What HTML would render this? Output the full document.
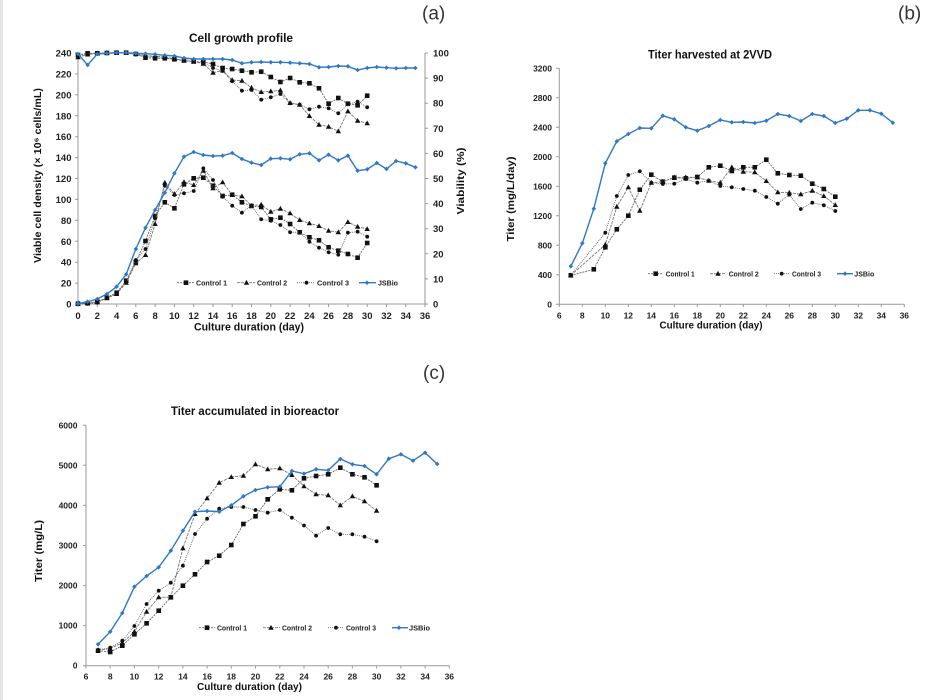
<!DOCTYPE html>
<html><head><meta charset="utf-8"><style>
html,body{margin:0;padding:0;background:#fff;}
svg{display:block;font-family:"Liberation Sans",Arial,sans-serif;}
.tk{font-weight:bold;font-size:9.5px;fill:#222;}
.tk2{font-weight:bold;font-size:8.5px;fill:#222;}
.ttl{font-weight:bold;fill:#111;}
.lg{font-weight:bold;font-size:7.5px;fill:#222;}
.ax{stroke:#9a9a9a;stroke-width:1;fill:none;}
.c1{fill:none;stroke:#666;stroke-width:0.9;stroke-dasharray:2,1;marker-start:url(#ms);marker-mid:url(#ms);marker-end:url(#ms);}
.c2{fill:none;stroke:#777;stroke-width:0.9;stroke-dasharray:3,1;marker-start:url(#mt);marker-mid:url(#mt);marker-end:url(#mt);}
.c3{fill:none;stroke:#666;stroke-width:0.9;stroke-dasharray:1,1;marker-start:url(#mc);marker-mid:url(#mc);marker-end:url(#mc);}
.bl{fill:none;stroke:#2f78c4;stroke-width:1.4;marker-start:url(#md);marker-mid:url(#md);marker-end:url(#md);}
.l1{fill:none;stroke:#666;stroke-width:0.9;stroke-dasharray:2,1;marker-mid:url(#ms);}
.l2{fill:none;stroke:#777;stroke-width:0.9;stroke-dasharray:3,1;marker-mid:url(#mt);}
.l3{fill:none;stroke:#666;stroke-width:0.9;stroke-dasharray:1,1;marker-mid:url(#mc);}
.lb{fill:none;stroke:#2f78c4;stroke-width:1.4;marker-mid:url(#md);}
</style></head><body>
<svg width="933" height="700" viewBox="0 0 933 700" xmlns="http://www.w3.org/2000/svg">
<defs>
<marker id="ms" viewBox="-3 -3 6 6" markerWidth="6" markerHeight="6" refX="0" refY="0" markerUnits="userSpaceOnUse" orient="0"><rect x="-2.3" y="-2.3" width="4.6" height="4.6" fill="#111"/></marker>
<marker id="mt" viewBox="-3 -3 6 6" markerWidth="6" markerHeight="6" refX="0" refY="0" markerUnits="userSpaceOnUse" orient="0"><polygon points="0,-2.8 2.7,2 -2.7,2" fill="#111"/></marker>
<marker id="mc" viewBox="-3 -3 6 6" markerWidth="6" markerHeight="6" refX="0" refY="0" markerUnits="userSpaceOnUse" orient="0"><circle r="1.9" fill="#111"/></marker>
<marker id="md" viewBox="-3 -3 6 6" markerWidth="6" markerHeight="6" refX="0" refY="0" markerUnits="userSpaceOnUse" orient="0"><polygon points="0,-2.3 2.3,0 0,2.3 -2.3,0" fill="#2f78c4"/></marker>
</defs>
<rect x="0" y="0" width="933" height="700" fill="#fff"/>
<rect x="0" y="0" width="3" height="700" fill="#e6e6e6"/>

<!-- ================= PANEL (a) ================= -->
<text x="422" y="19.5" font-size="19" fill="#333">(a)</text>
<text class="ttl" x="241" y="42" font-size="12" text-anchor="middle" textLength="104" lengthAdjust="spacingAndGlyphs">Cell growth profile</text>
<!-- axes -->
<path class="ax" d="M78,53 V304 H425 V53"/>
<path class="ax" d="M75,304H78M75,283.1H78M75,262.2H78M75,241.3H78M75,220.3H78M75,199.4H78M75,178.5H78M75,157.6H78M75,136.7H78M75,115.8H78M75,94.8H78M75,73.9H78M75,53H78"/>
<path class="ax" d="M425,304H428M425,278.9H428M425,253.8H428M425,228.7H428M425,203.6H428M425,178.5H428M425,153.4H428M425,128.3H428M425,103.2H428M425,78.1H428M425,53H428"/>
<path class="ax" d="M78,304V307M97.3,304V307M116.6,304V307M135.8,304V307M155.1,304V307M174.4,304V307M193.7,304V307M213,304V307M232.2,304V307M251.5,304V307M270.8,304V307M290.1,304V307M309.4,304V307M328.6,304V307M347.9,304V307M367.2,304V307M386.5,304V307M405.8,304V307M425,304V307"/>
<g class="tk" text-anchor="end">
<text x="71.5" y="307.5">0</text><text x="71.5" y="286.6">20</text><text x="71.5" y="265.7">40</text><text x="71.5" y="244.8">60</text><text x="71.5" y="223.8">80</text><text x="71.5" y="202.9">100</text><text x="71.5" y="182">120</text><text x="71.5" y="161.1">140</text><text x="71.5" y="140.2">160</text><text x="71.5" y="119.3">180</text><text x="71.5" y="98.3">200</text><text x="71.5" y="77.4">220</text><text x="71.5" y="56.5">240</text>
</g>
<g class="tk" text-anchor="start">
<text x="433" y="307.5">0</text><text x="433" y="282.4">10</text><text x="433" y="257.3">20</text><text x="433" y="232.2">30</text><text x="433" y="207.1">40</text><text x="433" y="182">50</text><text x="433" y="156.9">60</text><text x="433" y="131.8">70</text><text x="433" y="106.7">80</text><text x="433" y="81.6">90</text><text x="433" y="56.5">100</text>
</g>
<g class="tk" text-anchor="middle">
<text x="78" y="319">0</text><text x="97.3" y="319">2</text><text x="116.6" y="319">4</text><text x="135.8" y="319">6</text><text x="155.1" y="319">8</text><text x="174.4" y="319">10</text><text x="193.7" y="319">12</text><text x="213" y="319">14</text><text x="232.2" y="319">16</text><text x="251.5" y="319">18</text><text x="270.8" y="319">20</text><text x="290.1" y="319">22</text><text x="309.4" y="319">24</text><text x="328.6" y="319">26</text><text x="347.9" y="319">28</text><text x="367.2" y="319">30</text><text x="386.5" y="319">32</text><text x="405.8" y="319">34</text><text x="425" y="319">36</text>
</g>
<text class="ttl" x="249" y="330.5" font-size="11" text-anchor="middle" textLength="110" lengthAdjust="spacingAndGlyphs">Culture duration (day)</text>
<text class="ttl" transform="translate(41,175.5) rotate(-90)" x="0" y="0" font-size="10.5" text-anchor="middle" textLength="175" lengthAdjust="spacingAndGlyphs">Viable cell density (× 10⁶ cells/mL)</text>
<text class="ttl" transform="translate(464,181) rotate(-90)" x="0" y="0" font-size="10.5" text-anchor="middle" textLength="67" lengthAdjust="spacingAndGlyphs">Viability (%)</text>

<!-- viability -->
<polyline class="c1" points="78,55 87.6,53.3 97.3,53.3 106.9,53 116.6,52.7 126.2,52.7 135.8,54 145.5,57.7 155.1,58.3 164.8,58.3 174.4,59.3 184,60.5 193.7,61.5 203.3,62 213,64 222.6,68 232.2,69 241.9,70.7 251.5,72.3 261.2,71.7 270.8,77 280.4,82 290.1,78 299.7,82.3 309.4,83.3 319,88.3 328.6,103.7 338.3,98 347.9,103.7 357.6,105.3 367.2,95.7"/>
<polyline class="c2" points="78,57.3 87.6,54.5 97.3,53.3 106.9,53 116.6,52.7 126.2,53 135.8,54 145.5,55.5 155.1,56.3 164.8,57 174.4,58.7 184,60.5 193.7,61.5 203.3,63.7 213,72.7 222.6,70.5 232.2,80 241.9,80.7 251.5,87.7 261.2,92 270.8,91.3 280.4,90.3 290.1,103 299.7,104.7 309.4,116 319,124.7 328.6,126.7 338.3,131.3 347.9,111.3 357.6,120.7 367.2,123.3"/>
<polyline class="c3" points="78,56 87.6,54 97.3,53.5 106.9,53 116.6,52.7 126.2,53 135.8,54.5 145.5,56.5 155.1,57 164.8,57.5 174.4,59 184,60.5 193.7,61.5 203.3,63 213,68 222.6,71 232.2,81.3 241.9,90.7 251.5,90 261.2,99.7 270.8,97.3 280.4,94 290.1,103.3 299.7,104.7 309.4,109.3 319,106.7 328.6,108.3 338.3,113.3 347.9,104.3 357.6,101.7 367.2,107.3"/>
<polyline class="bl" points="78,54 87.6,65 97.3,54 106.9,53.3 116.6,52.7 126.2,52.7 135.8,53.3 145.5,53.7 155.1,54.3 164.8,55.3 174.4,56 184,58 193.7,59 203.3,59 213,59 222.6,59 232.2,60 241.9,63.3 251.5,62.3 261.2,62 270.8,62.3 280.4,62.3 290.1,62.7 299.7,63.3 309.4,64 319,67.3 328.6,67 338.3,66 347.9,66.3 357.6,70 367.2,68 376.8,67 386.5,67.7 396.1,68.3 405.8,68 415.4,68"/>
<!-- VCD -->
<polyline class="c1" points="78,303.7 87.6,303.3 97.3,301.7 106.9,297.7 116.6,292.7 126.2,280.7 135.8,262 145.5,241 155.1,216 164.8,202.3 174.4,208.3 184,184.3 193.7,178.3 203.3,177.7 213,185.7 222.6,196 232.2,194.7 241.9,202.3 251.5,206 261.2,207 270.8,219.3 280.4,217.7 290.1,224 299.7,232.3 309.4,237.3 319,240.3 328.6,247.3 338.3,250.7 347.9,254 357.6,257.7 367.2,243"/>
<polyline class="c2" points="78,304 87.6,303 97.3,302.3 106.9,298.3 116.6,294 126.2,282.7 135.8,263.3 145.5,255 155.1,224 164.8,182.7 174.4,194 184,182 193.7,185 203.3,170.7 213,188.3 222.6,182.3 232.2,195 241.9,196.3 251.5,205.7 261.2,204.7 270.8,211.7 280.4,208.7 290.1,213.3 299.7,220 309.4,223.3 319,226 328.6,230.7 338.3,232.3 347.9,222 357.6,226.7 367.2,229"/>
<polyline class="c3" points="78,304 87.6,303.7 97.3,302.7 106.9,297.7 116.6,292.7 126.2,282.3 135.8,260 145.5,249 155.1,218.3 164.8,185.7 174.4,195 184,193.3 193.7,191 203.3,168.3 213,180 222.6,196.7 232.2,205.7 241.9,212.7 251.5,205.5 261.2,219.3 270.8,220.7 280.4,225 290.1,232.3 299.7,232.3 309.4,241.7 319,247.7 328.6,252.3 338.3,254.7 347.9,232.7 357.6,231.7 367.2,236.7"/>
<polyline class="bl" points="78,303.7 87.6,301.7 97.3,299 106.9,294 116.6,286.7 126.2,274.3 135.8,249 145.5,227.7 155.1,210 164.8,192.7 174.4,173.3 184,156.7 193.7,152 203.3,155 213,156 222.6,155.7 232.2,153 241.9,159 251.5,162.7 261.2,165 270.8,158.7 280.4,158.3 290.1,159.3 299.7,154.3 309.4,153.3 319,160.3 328.6,154.7 338.3,160.3 347.9,155.7 357.6,170.7 367.2,169.3 376.8,163 386.5,169 396.1,161 405.8,163.3 415.4,167.3"/>
<!-- legend a -->
<polyline class="l1" points="177,282.7 186,282.7 194,282.7"/>
<text class="lg" x="196" y="285.5" textLength="31" lengthAdjust="spacingAndGlyphs">Control 1</text>
<polyline class="l2" points="237,282.7 246.5,282.7 255,282.7"/>
<text class="lg" x="257" y="285.5" textLength="30" lengthAdjust="spacingAndGlyphs">Control 2</text>
<polyline class="l3" points="297,282.7 306.5,282.7 315,282.7"/>
<text class="lg" x="317" y="285.5" textLength="32" lengthAdjust="spacingAndGlyphs">Control 3</text>
<polyline class="lb" points="359,282.7 367,282.7 376,282.7"/>
<text class="lg" x="378" y="285.5" textLength="20" lengthAdjust="spacingAndGlyphs">JSBio</text>

<!-- ================= PANEL (b) ================= -->
<text x="898" y="19.5" font-size="19" fill="#333">(b)</text>
<text class="ttl" x="710" y="58.5" font-size="11.5" text-anchor="middle" textLength="124" lengthAdjust="spacingAndGlyphs">Titer harvested at 2VVD</text>
<path class="ax" d="M559.3,68.3 V304.3 H904.3"/>
<path class="ax" d="M556,304.3H559.3M556,274.8H559.3M556,245.3H559.3M556,215.8H559.3M556,186.3H559.3M556,156.8H559.3M556,127.3H559.3M556,97.8H559.3M556,68.3H559.3"/>
<path class="ax" d="M559.3,304.3V307M582.3,304.3V307M605.3,304.3V307M628.3,304.3V307M651.3,304.3V307M674.3,304.3V307M697.3,304.3V307M720.3,304.3V307M743.3,304.3V307M766.3,304.3V307M789.3,304.3V307M812.3,304.3V307M835.3,304.3V307M858.3,304.3V307M881.3,304.3V307M904.3,304.3V307"/>
<g class="tk2" text-anchor="end">
<text x="552" y="307.3">0</text><text x="552" y="277.8">400</text><text x="552" y="248.3">800</text><text x="552" y="218.8">1200</text><text x="552" y="189.3">1600</text><text x="552" y="159.8">2000</text><text x="552" y="130.3">2400</text><text x="552" y="100.8">2800</text><text x="552" y="71.3">3200</text>
</g>
<g class="tk2" text-anchor="middle" font-size="9">
<text x="559.3" y="318.5">6</text><text x="582.3" y="318.5">8</text><text x="605.3" y="318.5">10</text><text x="628.3" y="318.5">12</text><text x="651.3" y="318.5">14</text><text x="674.3" y="318.5">16</text><text x="697.3" y="318.5">18</text><text x="720.3" y="318.5">20</text><text x="743.3" y="318.5">22</text><text x="766.3" y="318.5">24</text><text x="789.3" y="318.5">26</text><text x="812.3" y="318.5">28</text><text x="835.3" y="318.5">30</text><text x="858.3" y="318.5">32</text><text x="881.3" y="318.5">34</text><text x="904.3" y="318.5">36</text>
</g>
<text class="ttl" x="711" y="328.5" font-size="10.5" text-anchor="middle" textLength="103" lengthAdjust="spacingAndGlyphs">Culture duration (day)</text>
<text class="ttl" transform="translate(514,199) rotate(-90)" x="0" y="0" font-size="10.5" text-anchor="middle" textLength="85" lengthAdjust="spacingAndGlyphs">Titer (mg/L/day)</text>

<polyline class="c1" points="570.8,275.3 593.8,269.3 605.3,247.3 616.8,229.3 628.3,215.7 639.8,189.7 651.3,174.7 662.8,181.7 674.3,177.7 685.8,178.3 697.3,177 708.8,167.3 720.3,165.7 731.8,171 743.3,167.3 754.8,167.3 766.3,159.7 777.8,173.3 789.3,175 800.8,175.7 812.3,183.7 823.8,189 835.3,196.7"/>
<polyline class="c2" points="570.8,275.3 605.3,244.7 616.8,206.7 628.3,187.3 639.8,210.7 651.3,182.7 662.8,181.7 674.3,177.3 685.8,177.3 697.3,177.3 708.8,180.7 720.3,182.7 731.8,167.3 743.3,171.7 754.8,172.3 766.3,181 777.8,192.3 789.3,192.7 800.8,194.3 812.3,190.7 823.8,196 835.3,205"/>
<polyline class="c3" points="570.8,275.3 605.3,232.7 616.8,196 628.3,175 639.8,171.3 651.3,182.7 662.8,184 674.3,183.7 685.8,179 697.3,182.7 708.8,180.7 720.3,186 731.8,187.3 743.3,189 754.8,190.7 766.3,197 777.8,203.7 789.3,194.7 800.8,209 812.3,202.7 823.8,205.3 835.3,211"/>
<polyline class="bl" points="570.8,266.3 582.3,243.3 593.8,208.7 605.3,163.3 616.8,141.3 628.3,134 639.8,128 651.3,128.3 662.8,115.7 674.3,119.3 685.8,127.3 697.3,130.7 708.8,126 720.3,120 731.8,122.3 743.3,122 754.8,123 766.3,120.7 777.8,114 789.3,116 800.8,121 812.3,114 823.8,116 835.3,123 846.8,118.7 858.3,110.3 869.8,110.3 881.3,113.7 892.8,122.7"/>
<!-- legend b -->
<polyline class="l1" points="648,273.7 655.7,273.7 663,273.7"/>
<text class="lg" x="665.7" y="276.5" textLength="29" lengthAdjust="spacingAndGlyphs">Control 1</text>
<polyline class="l2" points="710,273.7 718,273.7 726,273.7"/>
<text class="lg" x="728.7" y="276.5" textLength="30" lengthAdjust="spacingAndGlyphs">Control 2</text>
<polyline class="l3" points="774,273.7 781.7,273.7 790,273.7"/>
<text class="lg" x="792" y="276.5" textLength="29" lengthAdjust="spacingAndGlyphs">Control 3</text>
<polyline class="lb" points="837,273.7 845,273.7 853,273.7"/>
<text class="lg" x="854.3" y="276.5" textLength="20" lengthAdjust="spacingAndGlyphs">JSBio</text>

<!-- ================= PANEL (c) ================= -->
<text x="423" y="379" font-size="19" fill="#333">(c)</text>
<text class="ttl" x="255" y="415" font-size="12" text-anchor="middle" textLength="168" lengthAdjust="spacingAndGlyphs">Titer accumulated in bioreactor</text>
<path class="ax" d="M86,425.3 V665.7 H449.3"/>
<path class="ax" d="M83,665.7H86M83,625.6H86M83,585.6H86M83,545.5H86M83,505.4H86M83,465.3H86M83,425.3H86"/>
<path class="ax" d="M86,665.7V668.5M110.2,665.7V668.5M134.4,665.7V668.5M158.7,665.7V668.5M182.9,665.7V668.5M207.1,665.7V668.5M231.3,665.7V668.5M255.5,665.7V668.5M279.8,665.7V668.5M304,665.7V668.5M328.2,665.7V668.5M352.4,665.7V668.5M376.6,665.7V668.5M400.9,665.7V668.5M425.1,665.7V668.5M449.3,665.7V668.5"/>
<g class="tk2" text-anchor="end">
<text x="77.5" y="668.7">0</text><text x="77.5" y="628.6">1000</text><text x="77.5" y="588.6">2000</text><text x="77.5" y="548.5">3000</text><text x="77.5" y="508.4">4000</text><text x="77.5" y="468.3">5000</text><text x="77.5" y="428.3">6000</text>
</g>
<g class="tk2" text-anchor="middle" font-size="9">
<text x="86" y="679.3">6</text><text x="110.2" y="679.3">8</text><text x="134.4" y="679.3">10</text><text x="158.7" y="679.3">12</text><text x="182.9" y="679.3">14</text><text x="207.1" y="679.3">16</text><text x="231.3" y="679.3">18</text><text x="255.5" y="679.3">20</text><text x="279.8" y="679.3">22</text><text x="304" y="679.3">24</text><text x="328.2" y="679.3">26</text><text x="352.4" y="679.3">28</text><text x="376.6" y="679.3">30</text><text x="400.9" y="679.3">32</text><text x="425.1" y="679.3">34</text><text x="449.3" y="679.3">36</text>
</g>
<text class="ttl" x="249.5" y="690" font-size="10.5" text-anchor="middle" textLength="105" lengthAdjust="spacingAndGlyphs">Culture duration (day)</text>
<text class="ttl" transform="translate(42,551) rotate(-90)" x="0" y="0" font-size="10.5" text-anchor="middle" textLength="62" lengthAdjust="spacingAndGlyphs">Titer (mg/L)</text>

<polyline class="c1" points="98.1,650.7 110.2,652 122.3,645.7 134.4,634.3 146.6,623.3 158.7,610.7 170.8,597.3 182.9,585.7 195,574.3 207.1,562 219.2,555.7 231.3,545 243.4,524 255.5,516.3 267.7,499.3 279.8,489.3 291.9,490.3 304,478.3 316.1,476 328.2,474.3 340.3,467.7 352.4,474.3 364.5,477.3 376.6,485.3"/>
<polyline class="c2" points="98.1,650 110.2,648.7 122.3,642.7 134.4,631.7 146.6,611.7 158.7,597.3 170.8,597.3 182.9,548.3 195,514 207.1,498.3 219.2,482.7 231.3,477 243.4,475.7 255.5,464.3 267.7,469.3 279.8,468.3 291.9,475 304,486.3 316.1,494.3 328.2,495.3 340.3,505.3 352.4,496.3 364.5,501.3 376.6,510.7"/>
<polyline class="c3" points="98.1,650 110.2,647.7 122.3,640.7 134.4,626 146.6,604 158.7,590.7 170.8,582.7 182.9,565.7 195,534 207.1,518.7 219.2,508.7 231.3,507 243.4,507 255.5,510 267.7,512.7 279.8,510 291.9,517.7 304,525.5 316.1,535.7 328.2,528 340.3,534.3 352.4,534.3 364.5,536.7 376.6,541.3"/>
<polyline class="bl" points="98.1,644.3 110.2,631.7 122.3,613 134.4,586.7 146.6,576 158.7,567.3 170.8,550.7 182.9,530.7 195,511.7 207.1,511 219.2,511.7 231.3,505.3 243.4,496.3 255.5,490 267.7,487.3 279.8,486.7 291.9,471 304,473.7 316.1,469.3 328.2,470.3 340.3,459 352.4,464.3 364.5,466 376.6,474.3 388.8,458.7 400.9,454.3 413,460.7 425.1,452.7 437.2,464"/>
<!-- legend c -->
<polyline class="l1" points="199,627.7 207,627.7 215,627.7"/>
<text class="lg" x="217" y="630.5" textLength="30" lengthAdjust="spacingAndGlyphs">Control 1</text>
<polyline class="l2" points="263,627.7 271,627.7 280,627.7"/>
<text class="lg" x="282" y="630.5" textLength="30" lengthAdjust="spacingAndGlyphs">Control 2</text>
<polyline class="l3" points="328,627.7 336,627.7 343,627.7"/>
<text class="lg" x="346" y="630.5" textLength="30" lengthAdjust="spacingAndGlyphs">Control 3</text>
<polyline class="lb" points="392,627.7 399,627.7 408,627.7"/>
<text class="lg" x="409" y="630.5" textLength="21" lengthAdjust="spacingAndGlyphs">JSBio</text>
</svg>
</body></html>
